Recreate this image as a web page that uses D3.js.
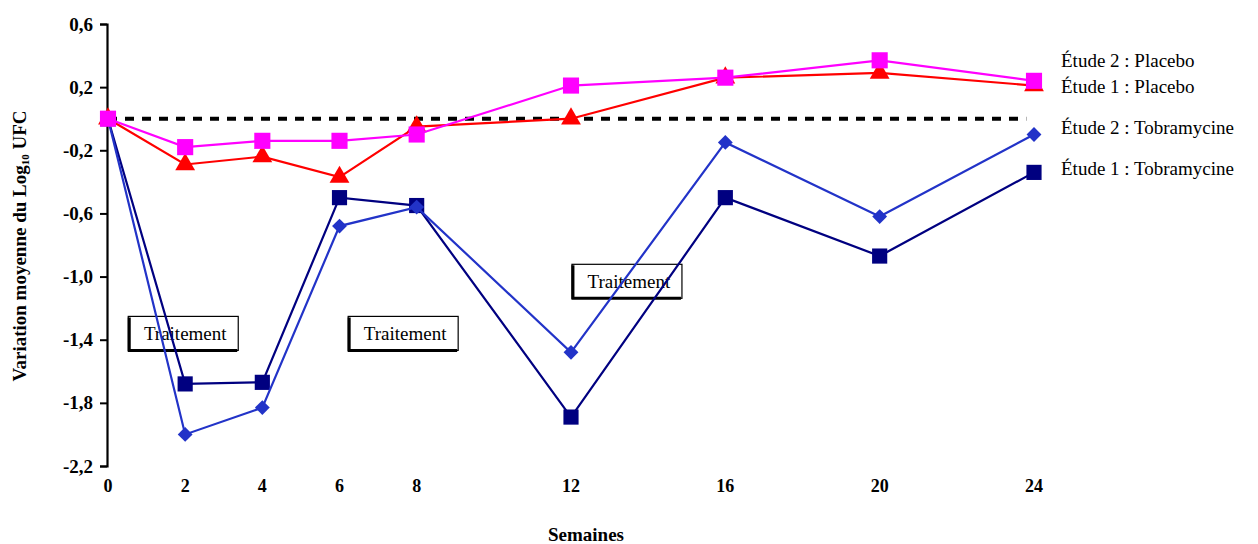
<!DOCTYPE html>
<html>
<head>
<meta charset="utf-8">
<script src="https://cdn.jsdelivr.net/npm/d3@7"></script>
<style>
  body { margin: 0; background: #fff; }
  text { font-family: "Liberation Serif", "Times New Roman", serif; }
</style>
</head>
<body>
<script>
var width = 1258;
var height = 544;

// weeks on the x axis
var weeks = [0, 2, 4, 6, 8, 12, 16, 20, 24];
var yTicks = [0.6, 0.2, -0.2, -0.6, -1.0, -1.4, -1.8, -2.2];

var etude1Placebo = [0, -0.29, -0.24, -0.37, -0.05, 0.0, 0.26, 0.29, 0.21];
var etude2Placebo = [0, -0.18, -0.14, -0.14, -0.10, 0.21, 0.26, 0.37, 0.24];
var etude2Tobra = [0, -2.0, -1.83, -0.68, -0.56, -1.48, -0.15, -0.62, -0.10];
var etude1Tobra = [0, -1.68, -1.67, -0.50, -0.55, -1.89, -0.50, -0.87, -0.34];

var legendLabels = ['Étude 2 : Placebo', 'Étude 1 : Placebo', 'Étude 2 : Tobramycine', 'Étude 1 : Tobramycine'];
var legendValues = [0.37, 0.21, -0.05, -0.31];

// treatment boxes: centre week and value
var boxWeeks = [1.95, 7.65, 13.45];
var boxValues = [-1.36, -1.36, -1.03];

var x = d3.scaleLinear().domain([0, 24]).range([108, 1034]);
var y = d3.scaleLinear().domain([-2.2, 0.6]).range([466, 24]);

var svg = d3.select('body').append('svg')
    .attr('width', width)
    .attr('height', height);

// y axis
var yAxis = svg.append('g')
    .attr('transform', 'translate(107,0)')
    .call(d3.axisLeft(y).tickValues(yTicks).tickSize(7).tickPadding(7)
      .tickFormat(function(d) { return d3.format('.1f')(d).replace('.', ',').replace('−', '-'); }));
yAxis.select('.domain').attr('stroke', '#000').attr('stroke-width', 2.2);
yAxis.selectAll('.tick line').attr('stroke', '#000').attr('stroke-width', 2);
yAxis.selectAll('.tick text')
    .style('font-family', '"Liberation Serif", serif')
    .style('font-weight', 'bold')
    .style('font-size', '19px')
    .attr('fill', '#000');

// x labels (no axis line)
svg.append('g').selectAll('text')
    .data(weeks)
    .enter().append('text')
    .attr('x', function(d) { return x(d); })
    .attr('y', 492)
    .attr('text-anchor', 'middle')
    .style('font-weight', 'bold')
    .style('font-size', '18px')
    .text(function(d) { return d; });

svg.append('text')
    .attr('x', 586)
    .attr('y', 541)
    .attr('text-anchor', 'middle')
    .style('font-weight', 'bold')
    .style('font-size', '19px')
    .text('Semaines');

svg.append('text')
    .attr('transform', 'translate(26,246) rotate(-90)')
    .attr('text-anchor', 'middle')
    .style('font-weight', 'bold')
    .style('font-size', '19px')
    .html('Variation moyenne du Log<tspan font-size="11px" dy="3">10</tspan><tspan dy="-3"> UFC</tspan>');

// zero reference line
svg.append('line')
    .attr('x1', x(0)).attr('x2', x(23.8))
    .attr('y1', y(0)).attr('y2', y(0))
    .attr('stroke', '#000')
    .attr('stroke-width', 4)
    .attr('stroke-dasharray', '9,8');

// treatment boxes
var boxes = svg.append('g').selectAll('g')
    .data(boxWeeks)
    .enter().append('g')
    .attr('transform', function(d, i) { return 'translate(' + x(d) + ',' + y(boxValues[i]) + ')'; });
boxes.append('rect')
    .attr('x', -55).attr('y', -17).attr('width', 110).attr('height', 34)
    .attr('fill', '#fff').attr('stroke', '#000').attr('stroke-width', 1.2);
boxes.append('path')
    .attr('d', 'M-54,-16V17H54')
    .attr('fill', 'none').attr('stroke', '#000').attr('stroke-width', 3);
boxes.append('text')
    .attr('x', 2).attr('y', 7)
    .attr('text-anchor', 'middle')
    .style('font-size', '19px')
    .text('Traitement');

var line = d3.line()
    .x(function(d, i) { return x(weeks[i]); })
    .y(function(d) { return y(d); });

var series = [
  { values: etude1Tobra, color: '#000080', shape: d3.symbolSquare, size: 230, rot: 0 },
  { values: etude2Tobra, color: '#2233c8', shape: d3.symbolSquare, size: 110, rot: 45 },
  { values: etude1Placebo, color: '#ff0000', shape: d3.symbolTriangle, size: 170, rot: 0 },
  { values: etude2Placebo, color: '#ff00ff', shape: d3.symbolSquare, size: 260, rot: 0 }
];

series.forEach(function(s) {
  svg.append('path')
      .datum(s.values)
      .attr('d', line)
      .attr('fill', 'none')
      .attr('stroke', s.color)
      .attr('stroke-width', 2.2);
  svg.append('g').selectAll('path')
      .data(s.values)
      .enter().append('path')
      .attr('transform', function(d, i) {
        return 'translate(' + x(weeks[i]) + ',' + y(d) + ') rotate(' + s.rot + ')';
      })
      .attr('d', d3.symbol().type(s.shape).size(s.size))
      .attr('fill', s.color);
});

// legend labels on the right
svg.append('g').selectAll('text')
    .data(legendLabels)
    .enter().append('text')
    .attr('x', 1061)
    .attr('y', function(d, i) { return y(legendValues[i]) + 7; })
    .style('font-size', '19px')
    .text(function(d) { return d; });
</script>
</body>
</html>
